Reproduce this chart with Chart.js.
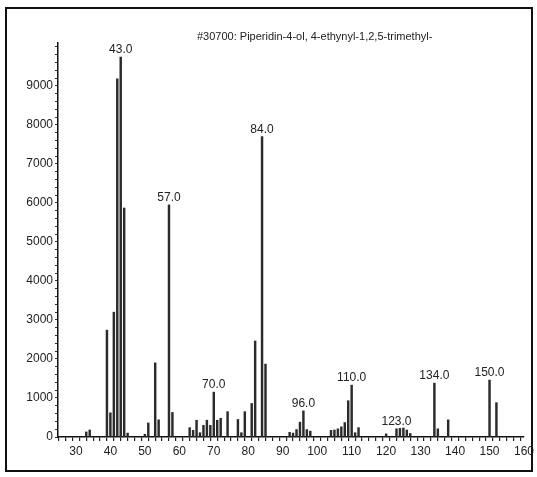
<!DOCTYPE html>
<html>
<head>
<meta charset="utf-8">
<script src="https://cdn.jsdelivr.net/npm/chart.js@4.4.1/dist/chart.umd.min.js"></script>
<style>
  html, body { margin: 0; padding: 0; background: #fff; }
  #wrap { position: relative; width: 537px; height: 477px; overflow: hidden; background: #fff; }
  #frame { position: absolute; left: 5px; top: 7px; width: 524px; height: 461px; border: 2px solid #111; pointer-events: none; }
  #title { position: absolute; left: 197px; top: 30px; font: 11px "Liberation Sans", Arial, sans-serif; color: #222; white-space: nowrap; }
  canvas { position: absolute; left: 0; top: 0; }
</style>
</head>
<body>
<div id="wrap">
  <canvas id="c" width="537" height="477"></canvas>
  <div id="title">#30700: Piperidin-4-ol, 4-ethynyl-1,2,5-trimethyl-</div>
  <div id="frame"></div>
</div>
<script>
// m/z values and abundances
const mz = [33, 34, 39, 40, 41, 42, 43, 44, 45, 50, 51, 53, 54, 57, 58,
  63, 64, 65, 66, 67, 68, 69, 70, 71, 72, 74, 77, 78, 79, 81, 82, 84, 85,
  92, 93, 94, 95, 96, 97, 98,
  104, 105, 106, 107, 108, 109, 110, 111, 112,
  120, 123, 124, 125, 126, 127,
  134, 135, 138, 150, 152];
const abundance = [130, 180, 2740, 620, 3200, 9180, 9740, 5870, 100, 70, 360, 1900, 440, 5950, 630,
  240, 170, 430, 110, 300, 430, 300, 1150, 430, 480, 650, 450, 110, 650, 860, 2460, 7700, 1870,
  120, 100, 190, 380, 670, 190, 150,
  170, 180, 210, 260, 370, 930, 1330, 110, 240,
  80, 210, 220, 230, 180, 90,
  1380, 210, 440, 1460, 880];
const labelledPeaks = [43, 57, 70, 84, 96, 110, 123, 134, 150];
const labelTexts = ['43.0', '57.0', '70.0', '84.0', '96.0', '110.0', '123.0', '134.0', '150.0'];
const xTickLabels = [30, 40, 50, 60, 70, 80, 90, 100, 110, 120, 130, 140, 150, 160];
const yTickLabels = [0, 1000, 2000, 3000, 4000, 5000, 6000, 7000, 8000, 9000];

const FONT = '"Liberation Sans", Arial, sans-serif';

const peakLabelPlugin = {
  id: 'peakLabels',
  afterDatasetsDraw(chart) {
    const ctx = chart.ctx;
    const xs = chart.scales.x, ys = chart.scales.y;
    ctx.save();
    ctx.font = '12px ' + FONT;
    ctx.fillStyle = '#222';
    ctx.textAlign = 'center';
    ctx.textBaseline = 'bottom';
    labelledPeaks.forEach((m, i) => {
      const idx = mz.indexOf(m);
      const px = xs.getPixelForValue(m);
      const py = ys.getPixelForValue(abundance[idx]);
      ctx.fillText(labelTexts[i], px, py - 1);
    });
    ctx.restore();
  }
};

new Chart(document.getElementById('c'), {
  type: 'bar',
  data: {
    datasets: [{
      data: mz.map((m, i) => ({ x: m, y: abundance[i] })),
      backgroundColor: '#2b2b2b',
      borderWidth: 0,
      barThickness: 1.8,
      grouped: false
    }]
  },
  options: {
    responsive: false,
    animation: false,
    devicePixelRatio: 1,
    layout: { padding: { left: 0, right: 13, top: 43, bottom: 12 } },
    plugins: { legend: { display: false }, tooltip: { enabled: false }, title: { display: false } },
    scales: {
      x: {
        type: 'linear',
        min: 24.8, max: 160,
        offset: false,
        afterFit: s => { s.height = 28; s.paddingLeft = 0; s.paddingRight = 0; },
        afterBuildTicks: s => {
          const t = [];
          for (let v = 26; v <= 160; v += 2) t.push({ value: v });
          s.ticks = t;
        },
        ticks: {
          autoSkip: false, maxRotation: 0, padding: 3,
          font: { family: FONT, size: 12 }, color: '#222',
          callback: v => xTickLabels.includes(v) ? String(v) : ''
        },
        grid: { drawOnChartArea: false, drawTicks: true, tickLength: 4, color: '#222', lineWidth: 1.2 },
        border: { display: true, color: '#111', width: 1.5 }
      },
      y: {
        type: 'linear',
        min: 0, max: 10100,
        afterFit: s => { s.width = 58; s.paddingTop = 0; s.paddingBottom = 0; },
        afterBuildTicks: s => {
          const t = [];
          for (let v = 0; v <= 10000; v += 200) t.push({ value: v });
          s.ticks = t;
        },
        ticks: {
          autoSkip: false, padding: 2,
          font: { family: FONT, size: 12 }, color: '#222',
          callback: v => yTickLabels.includes(v) ? String(v) : ''
        },
        grid: { drawOnChartArea: false, drawTicks: true, tickLength: 3, color: '#333', lineWidth: 1 },
        border: { display: true, color: '#111', width: 1.5 }
      }
    }
  },
  plugins: [peakLabelPlugin]
});
</script>
</body>
</html>
